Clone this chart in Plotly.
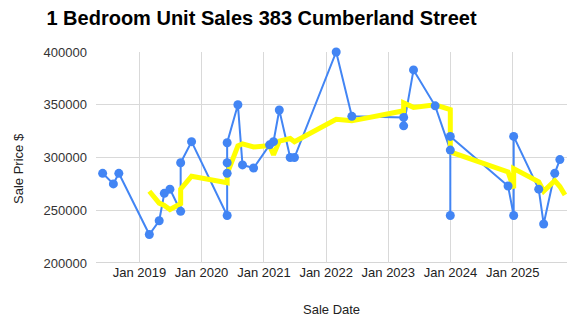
import plotly.graph_objects as go

# Sale data (blue series)
sale_dates = [
    "2018-05-30", "2018-08-01", "2018-09-02", "2019-02-28", "2019-04-27",
    "2019-05-27", "2019-06-29", "2019-08-31", "2019-08-31", "2019-11-03",
    "2020-05-30", "2020-05-30", "2020-05-30", "2020-05-30", "2020-08-01",
    "2020-08-28", "2020-11-01", "2021-02-03", "2021-02-26", "2021-04-01",
    "2021-06-04", "2021-06-29", "2022-03-01", "2022-06-01", "2023-04-01",
    "2023-04-01", "2023-05-29", "2023-10-03", "2023-12-31", "2023-12-31",
    "2023-12-31", "2024-12-04", "2025-01-06", "2025-01-06", "2025-06-02",
    "2025-07-01", "2025-09-04", "2025-10-04",
]
sale_prices = [
    285000, 275000, 285000, 227000, 240000,
    266000, 270000, 249000, 295000, 315000,
    245000, 285000, 295000, 314000, 350000,
    293000, 290000, 312000, 315000, 345000,
    300000, 300000, 400000, 339000, 338000,
    330000, 383000, 349000, 307000, 245000,
    320000, 273000, 245000, 320000, 270000,
    237000, 285000, 298000,
]

# Moving average (yellow series)
avg_dates = [
    "2019-02-28", "2019-04-27", "2019-05-27", "2019-06-29", "2019-08-31",
    "2019-08-31", "2019-11-03", "2020-05-30", "2020-05-30", "2020-05-30",
    "2020-05-30", "2020-08-01", "2020-08-28", "2020-11-01", "2021-02-03",
    "2021-02-26", "2021-04-01", "2021-06-04", "2021-06-29", "2022-03-01",
    "2022-06-01", "2023-04-01", "2023-04-01", "2023-05-29", "2023-10-03",
    "2023-12-31", "2023-12-31", "2023-12-31", "2024-12-04", "2025-01-06",
    "2025-01-06", "2025-06-02", "2025-07-01", "2025-09-04", "2025-10-04",
    "2025-11-03",
]
avg_prices = [
    268000, 256750, 254500, 250750, 256250,
    270000, 282250, 276000, 285000, 285000,
    284750, 311000, 313000, 310000, 311250,
    302500, 315500, 318000, 315000, 336250,
    334750, 344250, 351750, 347500, 350000,
    345500, 339750, 305250, 286250, 270750,
    289500, 277000, 268000, 278000, 272500,
    264500,
]

y_ticks = [200000, 250000, 300000, 350000, 400000]

W, H = 578, 332
L, R, T, B = 96, 11.3, 52, 69

fig = go.Figure()
fig.add_trace(go.Scatter(
    x=sale_dates, y=sale_prices, mode="lines",
    line=dict(color="#4285F4", width=2), cliponaxis=False,
    showlegend=False, hoverinfo="skip"))
fig.add_trace(go.Scatter(
    x=avg_dates, y=avg_prices, mode="lines",
    line=dict(color="#FFFF00", width=5), cliponaxis=False,
    showlegend=False))
fig.add_trace(go.Scatter(
    x=sale_dates, y=sale_prices, mode="markers",
    marker=dict(color="#4285F4", size=9), cliponaxis=False,
    showlegend=False))

font_family = "Liberation Sans, Arial, sans-serif"

fig.update_layout(
    width=W, height=H,
    margin=dict(l=L, r=R, t=T, b=B, pad=0),
    paper_bgcolor="white", plot_bgcolor="white",
    font=dict(family=font_family, size=13, color="#333"),
    title=dict(
        text="<b>1 Bedroom Unit Sales 383 Cumberland Street</b>",
        xref="container", yref="container",
        x=261.5 / W, y=1 - 18 / H, xanchor="center", yanchor="middle",
        font=dict(family=font_family, size=20, color="#000")),
    xaxis=dict(
        type="date", range=["2018-04-21", "2025-11-15"],
        tick0="2019-01-01", dtick="M12", tickformat="%b %Y",
        showgrid=True, gridcolor="#d9d9d9", gridwidth=1,
        zeroline=False, showline=False, ticks="",
        tickfont=dict(size=13, color="#222")),
    yaxis=dict(
        range=[200000, 400000], tickvals=y_ticks, tickformat="d",
        showgrid=True, gridcolor="#d9d9d9", gridwidth=1,
        zeroline=False, showline=False, ticks="", ticklabelstandoff=8,
        tickfont=dict(size=13, color="#333")),
    annotations=[
        dict(text="Sale Date", xref="paper", yref="paper",
             x=0.5, y=-(309 - 263) / (H - T - B), xanchor="center", yanchor="middle",
             showarrow=False, font=dict(size=13, color="#222")),
        dict(text="Sale Price $", xref="paper", yref="paper",
             x=-(L - 18) / (W - L - R), y=(263 - 168) / (H - T - B),
             xanchor="center", yanchor="middle", textangle=-90,
             showarrow=False, font=dict(size=13, color="#222")),
    ],
)
fig.add_shape(type="line", xref="paper", yref="y", x0=0, x1=1, y0=200000, y1=200000,
              line=dict(color="#c8c8c8", width=1.5), layer="below")

fig.write_html("out.html")
